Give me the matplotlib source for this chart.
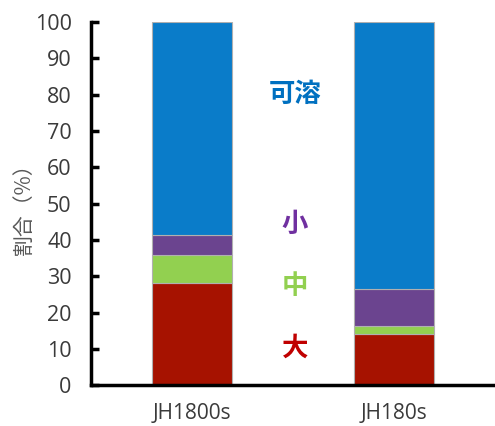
import matplotlib.pyplot as plt
import numpy as np

plt.rcParams['font.family'] = ['Open Sans', 'Noto Sans CJK JP', 'DejaVu Sans']

samples = ['JH1800s', 'JH180s']
large = [28.0, 14.2]
medium = [7.8, 2.1]
small = [5.5, 10.2]
soluble = [58.7, 73.5]

layers = [
    (large, '#A61200', '大', '#C00000', 10.3),
    (medium, '#92D050', '中', '#92D050', 27.2),
    (small, '#6B448F', '小', '#7030A0', 44.3),
    (soluble, '#0A7CC9', '可溶', '#0070C0', 80.0),
]

fig = plt.figure(figsize=(4.95, 4.26), dpi=100)
ax = fig.add_axes([0.184, 0.096, 0.816, 0.852])

x = np.arange(len(samples))
bottom = np.zeros(len(samples))
for vals, col, name, tcol, ty in layers:
    ax.bar(x, vals, 0.4, bottom=bottom, color=col, edgecolor='#B0B0B0', linewidth=0.8)
    bottom += np.array(vals)
    ax.text(0.51, ty, name, color=tcol, fontsize=19, fontweight='bold',
            ha='center', va='center', family=['Noto Sans CJK JP'])

ax.set_xlim(-0.5, 1.5)
ax.set_ylim(0, 100)
ax.set_yticks(range(0, 101, 10))
ax.set_xticks(x)
ax.set_xticklabels(samples)
ax.tick_params(axis='y', direction='in', length=6, width=2.5, colors='black',
               labelcolor='#3A3A3A', labelsize=15.5, pad=14)
ax.tick_params(axis='x', length=0, labelcolor='#3A3A3A', labelsize=15, pad=13)
for s in ['top', 'right']:
    ax.spines[s].set_visible(False)
ax.spines['left'].set_linewidth(2.5)
ax.spines['bottom'].set_linewidth(2.5)
ax.set_ylabel('割合（%）', color='#595959', fontsize=15, family=['Noto Sans CJK JP'], labelpad=0)

plt.savefig('out.png', dpi=100)
